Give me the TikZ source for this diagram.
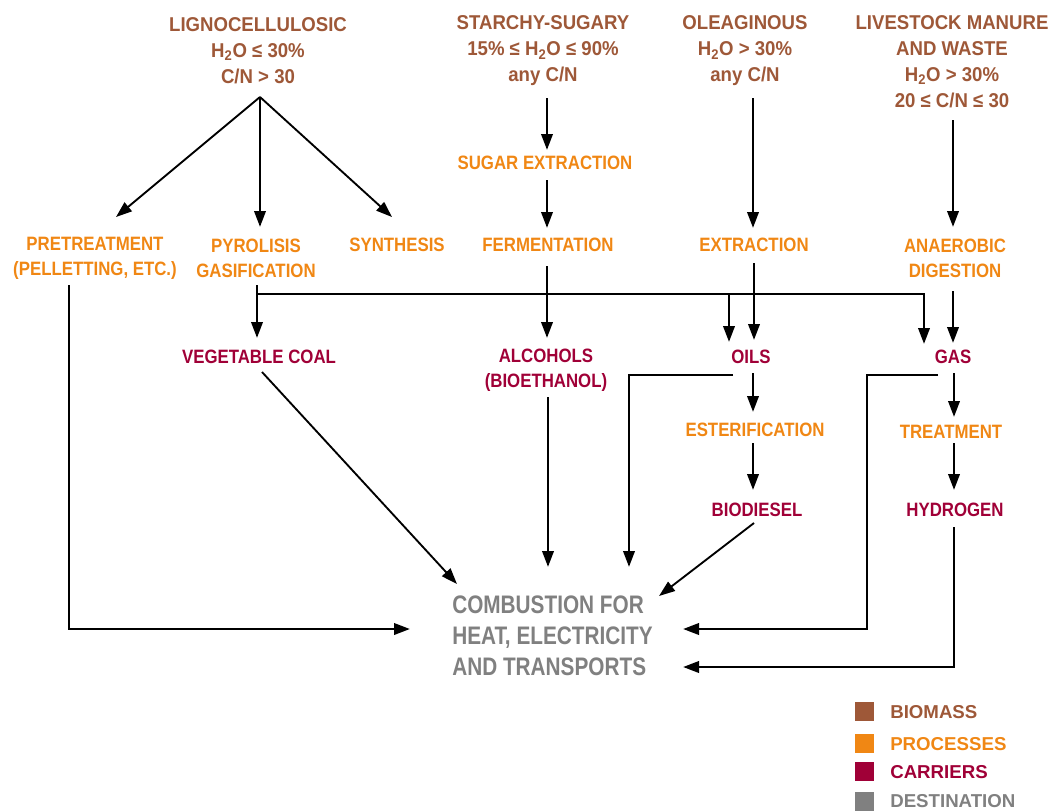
\documentclass[tikz,border=0pt]{standalone}
\usepackage{fontspec}
\setmainfont{Liberation Sans}
\newfontfamily\bfont{Liberation Sans}[FakeStretch=0.93]
\newfontfamily\nfont{Liberation Sans}[FakeStretch=0.87]
\newfontfamily\dfont{Liberation Sans}[FakeStretch=0.82]
\usetikzlibrary{arrows.meta,calc}
\definecolor{biomassc}{RGB}{158,88,56}
\definecolor{procc}{RGB}{240,135,20}
\definecolor{carrc}{RGB}{160,0,55}
\definecolor{destc}{RGB}{128,128,128}
\tikzset{
  bio/.style={font=\bfont\fontsize{15}{19.5}\selectfont\bfseries, text=biomassc, align=center, inner sep=0pt},
  proc/.style={font=\nfont\fontsize{14.5}{18.75}\selectfont\bfseries, text=procc, align=center, inner sep=0pt},
  carr/.style={font=\nfont\fontsize{14.5}{18.75}\selectfont\bfseries, text=carrc, align=center, inner sep=0pt},
  dest/.style={font=\dfont\fontsize{19}{23.25}\selectfont\bfseries, text=destc, align=left, inner sep=0pt, anchor=west},
  legtext/.style={font=\fontsize{14}{17}\selectfont\bfseries, inner sep=0pt, anchor=west},
  legbox/.style={minimum size=14.25pt, inner sep=0pt, draw=none},
  arr/.style={-{Triangle[length=12pt,width=8.5pt]}, line width=2pt},
  darr/.style={-{Triangle[length=12pt,width=8.5pt]}, line width=1.4pt},
}
\begin{document}
\begin{tikzpicture}[x=0.75pt,y=-0.75pt]
\useasboundingbox (0,0) rectangle (1053,811);
% biomass
\node[bio] (lig) at (258,51) {LIGNOCELLULOSIC\\H\textsubscript{2}O ≤ 30\%\\C/N > 30};
\node[bio] (sta) at (543,51) {STARCHY-SUGARY\\15\% ≤ H\textsubscript{2}O ≤ 90\%\\any C/N};
\node[bio] (ole) at (745,51) {OLEAGINOUS\\H\textsubscript{2}O > 30\%\\any C/N};
\node[bio] (liv) at (952,62) {LIVESTOCK MANURE\\AND WASTE\\H\textsubscript{2}O > 30\%\\20 ≤ C/N ≤ 30};
% processes
\node[proc] (pre) at (95,258) {PRETREATMENT\\(PELLETTING, ETC.)};
\node[proc] (pyr) at (256,258) {PYROLISIS\\GASIFICATION};
\node[proc] (syn) at (397,245) {SYNTHESIS};
\node[proc] (sug) at (545,163) {SUGAR EXTRACTION};
\node[proc] (fer) at (548,245) {FERMENTATION};
\node[proc] (ext) at (754,245) {EXTRACTION};
\node[proc] (ana) at (955,258) {ANAEROBIC\\DIGESTION};
\node[proc] (est) at (755,430) {ESTERIFICATION};
\node[proc] (tre) at (951,432) {TREATMENT};
% carriers
\node[carr] (veg) at (259,357) {VEGETABLE COAL};
\node[carr] (alc) at (546,370) {ALCOHOLS\\(BIOETHANOL)};
\node[carr] (oil) at (751,357) {OILS};
\node[carr] (gas) at (953,357) {GAS};
\node[carr] (bio) at (757,510) {BIODIESEL};
\node[carr] (hyd) at (955,510) {HYDROGEN};
% destination
\node[dest] (com) at (452,636) {COMBUSTION FOR\\HEAT, ELECTRICITY\\AND TRANSPORTS};
% legend
\node[legbox, fill=biomassc] (lb1) at (864.5,711.5) {};
\node[legbox, fill=procc] (lb2) at (864.5,743.5) {};
\node[legbox, fill=carrc] (lb3) at (864.5,771.5) {};
\node[legbox, fill=destc] (lb4) at (864.5,801.5) {};
\node[legtext, text=biomassc] (lt1) at (890,712) {BIOMASS};
\node[legtext, text=procc] (lt2) at (890,744) {PROCESSES};
\node[legtext, text=carrc] (lt3) at (890,772) {CARRIERS};
\node[legtext, text=destc] (lt4) at (890,801) {DESTINATION};
% connectors
\draw[darr] ($(lig)+(2,46)$) -- ($(pre)+(21,-41)$);
\draw[arr] ($(lig)+(2,46)$) -- ($(pyr)+(4,-31)$);
\draw[darr] ($(lig)+(2,46)$) -- ($(syn)+(-5,-28)$);
\draw[arr] ($(sta)+(4,47)$) -- ($(sug)+(2,-13)$);
\draw[arr] ($(ole)+(8,47)$) -- ($(ext)+(-1,-17)$);
\draw[arr] ($(liv)+(1,58)$) -- ($(ana)+(-2,-31)$);
\draw[arr] ($(sug)+(2,17)$) -- ($(fer)+(-1,-17)$);
\draw[arr] ($(pre)+(-26,27)$) |- ($(com.west)+(-42,-7)$);
\draw[arr] ($(pyr)+(1,27)$) -- ($(veg)+(-2,-19)$);
\draw[arr] ($(pyr)+(1,36)$) -| ($(gas)+(-29,-13)$);
\draw[arr] ($(oil)+(-22,-63)$) -- ($(oil)+(-22,-15)$);
\draw[arr] ($(fer)+(-1,21)$) -- ($(alc)+(1,-32)$);
\draw[arr] ($(ext)+(0,18)$) -- ($(oil)+(3,-17)$);
\draw[arr] ($(ana)+(-2,33)$) -- ($(gas)+(0,-14)$);
\draw[darr] ($(veg)+(3,15)$) -- ($(com.west)+(5,-52)$);
\draw[arr] ($(alc)+(2,27)$) -- ($(com.west)+(96,-69)$);
\draw[arr] ($(oil)+(-18,18)$) -| ($(com.west)+(177,-69)$);
\draw[arr] ($(oil)+(2,16)$) -- ($(est)+(-2,-18)$);
\draw[arr] ($(est)+(-2,13)$) -- ($(bio)+(-4,-20)$);
\draw[darr] ($(bio)+(-3,13)$) -- ($(com.west)+(207,-40)$);
\draw[arr] ($(gas)+(-15,18)$) -| ($(com.west)+(415,-7)$) -- ($(com.west)+(231,-7)$);
\draw[arr] ($(gas)+(1,16)$) -- ($(tre)+(3,-15)$);
\draw[arr] ($(tre)+(3,11)$) -- ($(hyd)+(-1,-20)$);
\draw[arr] ($(hyd)+(-1,17)$) |- ($(com.west)+(231,31)$);
\end{tikzpicture}
\end{document}
